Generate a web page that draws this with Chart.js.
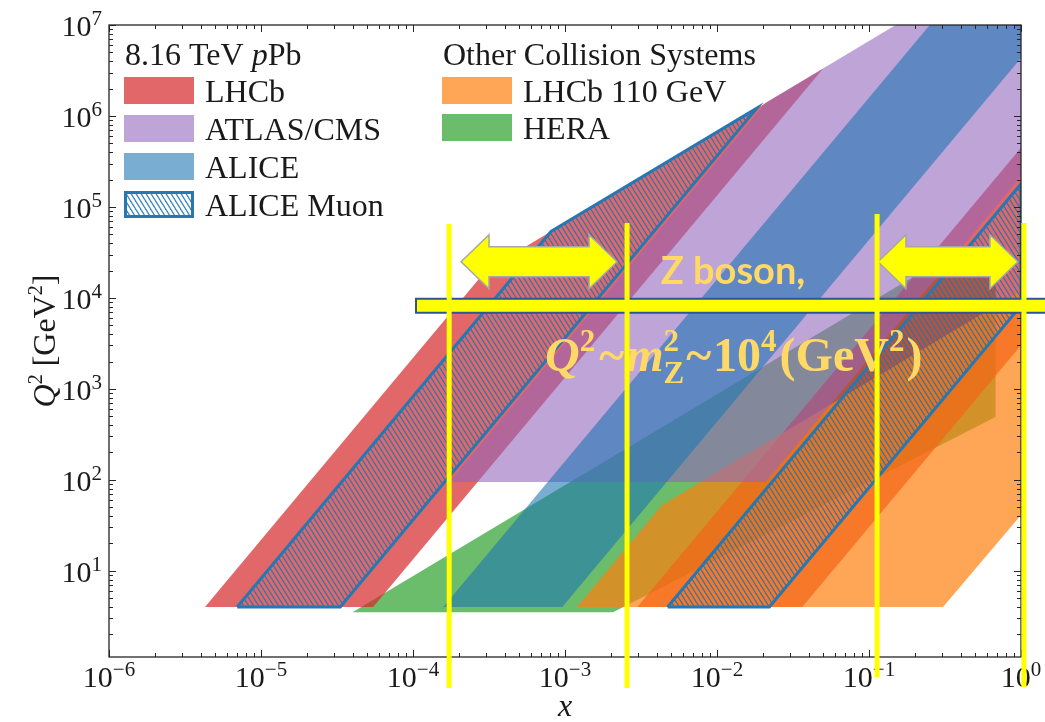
<!DOCTYPE html>
<html lang="en">
<head>
<meta charset="utf-8">
<title>Kinematic coverage, 8.16 TeV pPb</title>
<script src="https://cdn.jsdelivr.net/npm/chart.js@4.4.1/dist/chart.umd.min.js"></script>
<style>
  html, body { margin: 0; padding: 0; background: #fff; }
  #box { position: relative; width: 1045px; height: 722px; }
</style>
</head>
<body>
<div id="box"><canvas id="coverage" width="1045" height="722"></canvas></div>
<script>
// ---- 8.16 TeV pPb acceptances: polygon corners in (x, Q^2) ----
const lhcbFwdX   = [4.28e-6, 5.47e-5, 0.0498, 3.03e-4];
const lhcbFwdQ2  = [4, 4, 3.31e6, 2.02e4];
const lhcbBwdX   = [2.99e-3, 0.0364, 1, 1];
const lhcbBwdQ2  = [4, 4, 3020, 4.48e5];
const atlasCmsX  = [1.73e-4, 0.0210, 1, 1, 0.150, 0.0208];
const atlasCmsQ2 = [95, 95, 2.16e5, 1e7, 1e7, 1.39e6];
const aliceX     = [1.58e-4, 9.59e-4, 1, 1, 0.251];
const aliceQ2    = [4, 4, 4.34e6, 1e7, 1e7];
const muonFwdX   = [6.97e-6, 3.32e-5, 0.0183, 8.09e-4];
const muonFwdQ2  = [4, 4, 1.22e6, 5.38e4];
const muonBwdX   = [4.73e-3, 0.0221, 1, 1];
const muonBwdQ2  = [4, 4, 8200, 1.79e5];

// ---- other collision systems ----
const lhcb110X   = [1.20e-3, 0.307, 1, 1, 4.34e-3];
const lhcb110Q2  = [4, 4, 41, 1.21e4, 52.5];
const heraX      = [4.0e-5, 2.07e-3, 0.68, 0.68, 0.344];
const heraQ2     = [3.5, 3.5, 490, 3.0e4, 3.0e4];

// ---- axes ----
const xDecades = [-6, -5, -4, -3, -2, -1, 0];
const xTickExp = ['−6', '−5', '−4', '−3', '−2', '−1', '0'];
const yDecades = [0, 1, 2, 3, 4, 5, 6, 7];
const yTickExp = ['0', '1', '2', '3', '4', '5', '6', '7'];

// ---- legend text ----
const ppbLabels = ['LHCb', 'ATLAS/CMS', 'ALICE', 'ALICE Muon'];
const otherLabels = ['LHCb 110 GeV', 'HERA'];

// ---- Z boson marks: guide lines (x), arrows (x from/to), band level ----
const zGuideX = [1.73e-4, 2.56e-3, 0.113, 1.046];
const zArrowFrom = [2.07e-4, 0.1146];
const zArrowTo = [2.20e-3, 0.955];
const zArrowQ2 = 2.5e4;
const zBandQ2 = 8.2e3;

const SERIF = "'Liberation Serif', 'Times New Roman', serif";
const RED = 'rgba(214, 39, 40, 0.7)';
const PURPLE = 'rgba(148, 103, 189, 0.6)';
const BLUE = 'rgba(31, 119, 180, 0.6)';
const ORANGE = 'rgba(255, 127, 14, 0.7)';
const GREEN = 'rgba(44, 160, 44, 0.7)';
const EDGE = '#2677b2';
const YELLOW = '#ffff00';
const GOLD = '#ffd966';
const INK = '#1a1a1a';

function hatchPattern(bg) {
  const w = 5, h = 8;
  const c = document.createElement('canvas');
  c.width = w; c.height = h;
  const g = c.getContext('2d');
  if (bg) { g.fillStyle = bg; g.fillRect(0, 0, w, h); }
  g.strokeStyle = 'rgba(31, 119, 180, 0.9)';
  g.lineWidth = 1.2;
  for (const off of [-w, 0, w]) {
    g.beginPath();
    g.moveTo(off - w / h, -1);
    g.lineTo(off + w + w / h, h + 1);
    g.stroke();
  }
  return g.createPattern(c, 'repeat');
}
const HATCH = hatchPattern(null);
const HATCH_LEGEND = hatchPattern('#ffffff');

function region(label, xs, q2, fill, outline) {
  const pts = xs.map((x, i) => ({ x: x, y: q2[i] }));
  if (outline) pts.push(pts[0]);
  return {
    label: label,
    data: pts,
    showLine: true,
    fill: 'shape',
    backgroundColor: fill,
    borderColor: outline || 'rgba(0,0,0,0)',
    borderWidth: outline ? 3 : 0,
    borderJoinStyle: 'miter',
    pointRadius: 0,
    pointHoverRadius: 0,
    tension: 0
  };
}

// listed bottom layer first
const layers = [
  region('HERA', heraX, heraQ2, GREEN),
  region('LHCb', lhcbFwdX, lhcbFwdQ2, RED),
  region('LHCb', lhcbBwdX, lhcbBwdQ2, RED),
  region('LHCb 110 GeV', lhcb110X, lhcb110Q2, ORANGE),
  region('ATLAS/CMS', atlasCmsX, atlasCmsQ2, PURPLE),
  region('ALICE', aliceX, aliceQ2, BLUE),
  region('ALICE Muon', muonFwdX, muonFwdQ2, HATCH, EDGE),
  region('ALICE Muon', muonBwdX, muonBwdQ2, HATCH, EDGE)
];
layers.forEach((d, i) => { d.order = layers.length - i; });

function isDecade(v) {
  const l = Math.log10(v);
  return Math.abs(l - Math.round(l)) < 1e-6;
}

function logTicks(decades, lo, hi) {
  const out = [];
  decades.forEach(e => {
    for (let m = 1; m < 10; m++) {
      const v = m * Math.pow(10, e);
      if (v >= lo * 0.999 && v <= hi * 1.001) out.push({ value: v });
    }
  });
  return out;
}

function drawRuns(ctx, runs, x, y) {
  let cx = x;
  runs.forEach(r => {
    ctx.font = r.font;
    ctx.fillText(r.t, cx, y + (r.dy || 0));
    if (!r.stack) cx += ctx.measureText(r.t).width + (r.kern || 0);
  });
  return cx - x;
}

function runsWidth(ctx, runs) {
  let w = 0;
  runs.forEach(r => {
    ctx.font = r.font;
    if (!r.stack) w += ctx.measureText(r.t).width + (r.kern || 0);
  });
  return w;
}

function powerRuns(exp) {
  return [
    { t: '10', font: '30px ' + SERIF },
    { t: exp, font: '21px ' + SERIF, dy: -11 }
  ];
}

// box frame with inward ticks on all four sides, plus 10^n labels
const frameTicks = {
  id: 'frameTicks',
  afterDatasetsDraw(chart) {
    const { ctx, chartArea: a, scales: { x, y } } = chart;
    ctx.save();
    ctx.strokeStyle = '#262626';
    ctx.lineWidth = 1;
    ctx.beginPath();
    x.ticks.forEach(t => {
      const px = Math.round(x.getPixelForValue(t.value)) + 0.5;
      const len = isDecade(t.value) ? 7 : 4;
      ctx.moveTo(px, a.bottom); ctx.lineTo(px, a.bottom - len);
      ctx.moveTo(px, a.top); ctx.lineTo(px, a.top + len);
    });
    y.ticks.forEach(t => {
      const py = Math.round(y.getPixelForValue(t.value)) + 0.5;
      const len = isDecade(t.value) ? 7 : 4;
      ctx.moveTo(a.left, py); ctx.lineTo(a.left + len, py);
      ctx.moveTo(a.right, py); ctx.lineTo(a.right - len, py);
    });
    ctx.stroke();
    ctx.lineWidth = 1.3;
    ctx.strokeRect(a.left, a.top, a.right - a.left, a.bottom - a.top);

    ctx.fillStyle = INK;
    ctx.textAlign = 'left';
    ctx.textBaseline = 'alphabetic';
    x.ticks.filter(t => isDecade(t.value)).forEach(t => {
      const e = Math.round(Math.log10(t.value));
      const runs = powerRuns(xTickExp[xDecades.indexOf(e)]);
      const px = x.getPixelForValue(t.value);
      drawRuns(ctx, runs, px - runsWidth(ctx, runs) / 2, a.bottom + 30);
    });
    y.ticks.filter(t => isDecade(t.value)).forEach(t => {
      const e = Math.round(Math.log10(t.value));
      const runs = powerRuns(yTickExp[yDecades.indexOf(e)]);
      const py = y.getPixelForValue(t.value);
      drawRuns(ctx, runs, a.left - 7 - runsWidth(ctx, runs), py + 11);
    });
    ctx.restore();
  }
};

function legendBox(ctx, x, y, fill, outline) {
  const w = 70, h = 27;
  ctx.fillStyle = '#ffffff';
  ctx.fillRect(x, y, w, h);
  ctx.fillStyle = fill;
  ctx.fillRect(x, y, w, h);
  if (outline) {
    ctx.strokeStyle = outline;
    ctx.lineWidth = 3;
    ctx.strokeRect(x + 1.5, y + 1.5, w - 3, h - 3);
  }
}

function doubleArrow(ctx, x1, x2, cy) {
  const hl = 28, hh = 27, sh = 15;
  ctx.beginPath();
  ctx.moveTo(x1, cy);
  ctx.lineTo(x1 + hl, cy - hh);
  ctx.lineTo(x1 + hl, cy - sh);
  ctx.lineTo(x2 - hl, cy - sh);
  ctx.lineTo(x2 - hl, cy - hh);
  ctx.lineTo(x2, cy);
  ctx.lineTo(x2 - hl, cy + hh);
  ctx.lineTo(x2 - hl, cy + sh);
  ctx.lineTo(x1 + hl, cy + sh);
  ctx.lineTo(x1 + hl, cy + hh);
  ctx.closePath();
  ctx.fillStyle = YELLOW;
  ctx.fill();
  ctx.strokeStyle = '#a6a6a6';
  ctx.lineWidth = 1.5;
  ctx.stroke();
}

const overlay = {
  id: 'overlay',
  afterDraw(chart) {
    const { ctx, chartArea: a, scales: { x, y } } = chart;
    ctx.save();
    ctx.textBaseline = 'alphabetic';
    ctx.textAlign = 'left';

    // legend: two columns
    const F = '32px ' + SERIF, FI = 'italic 32px ' + SERIF;
    ctx.fillStyle = INK;
    drawRuns(ctx, [{ t: '8.16 TeV ', font: F }, { t: 'p', font: FI }, { t: 'Pb', font: F }], 125, 65);
    drawRuns(ctx, [{ t: 'Other Collision Systems', font: F }], 443, 65);
    const ppbFills = [[RED], [PURPLE], [BLUE], [HATCH_LEGEND, EDGE]];
    ppbLabels.forEach((lab, i) => {
      const top = 77 + i * 38;
      legendBox(ctx, 124, top, ppbFills[i][0], ppbFills[i][1]);
      ctx.fillStyle = INK;
      ctx.font = F;
      ctx.fillText(lab, 205, top + 25);
    });
    const otherFills = [ORANGE, GREEN];
    otherLabels.forEach((lab, i) => {
      const top = 77 + i * 37;
      legendBox(ctx, 442, top, otherFills[i]);
      ctx.fillStyle = INK;
      ctx.font = F;
      ctx.fillText(lab, 523, top + 25);
    });

    // axis titles
    ctx.fillStyle = INK;
    ctx.font = FI;
    ctx.textAlign = 'center';
    ctx.fillText('x', (a.left + a.right) / 2, 716);
    ctx.textAlign = 'left';
    const yTitle = [
      { t: 'Q', font: FI },
      { t: '2', font: '20px ' + SERIF, dy: -13 },
      { t: ' [GeV', font: F },
      { t: '2', font: '20px ' + SERIF, dy: -13 },
      { t: ']', font: F }
    ];
    ctx.save();
    ctx.translate(55, (a.top + a.bottom) / 2);
    ctx.rotate(-Math.PI / 2);
    drawRuns(ctx, yTitle, -runsWidth(ctx, yTitle) / 2, 0);
    ctx.restore();

    // Z boson band at Q^2 ~ 10^4
    const by = y.getPixelForValue(zBandQ2);
    ctx.fillStyle = YELLOW;
    ctx.fillRect(416, by - 7, 640, 14);
    ctx.strokeStyle = '#2f5597';
    ctx.lineWidth = 2;
    ctx.strokeRect(416, by - 7, 640, 14);

    // x ranges
    const ay = y.getPixelForValue(zArrowQ2);
    zArrowFrom.forEach((x0, i) => {
      doubleArrow(ctx, x.getPixelForValue(x0), x.getPixelForValue(zArrowTo[i]), ay);
    });

    // labels
    ctx.fillStyle = GOLD;
    ctx.font = "bold 38px Lato, 'Open Sans', sans-serif";
    ctx.textAlign = 'center';
    ctx.fillText('Z boson,', 733, 284);
    ctx.textAlign = 'left';
    const B = 'bold 48px ' + SERIF, BI = 'italic bold 48px ' + SERIF;
    const S = 'bold 31px ' + SERIF;
    const formula = [
      { t: 'Q', font: BI },
      { t: '2', font: S, dy: -20, kern: 4 },
      { t: '~', font: B, kern: 2 },
      { t: 'm', font: BI },
      { t: '2', font: S, dy: -20, stack: true },
      { t: 'Z', font: S, dy: 12, kern: 2 },
      { t: '~', font: B, kern: 2 },
      { t: '10', font: B },
      { t: '4', font: S, dy: -20, kern: 3 },
      { t: '(GeV', font: B },
      { t: '2', font: S, dy: -20, kern: 2 },
      { t: ')', font: B }
    ];
    drawRuns(ctx, formula, 545, 371);

    // vertical guides
    ctx.fillStyle = YELLOW;
    const spans = [[224, 688], [223, 688], [214, 677], [223, 687]];
    zGuideX.forEach((gx, i) => {
      const px = x.getPixelForValue(gx);
      ctx.fillRect(px - 2.5, spans[i][0], 5, spans[i][1] - spans[i][0]);
    });
    ctx.restore();
  }
};

new Chart(document.getElementById('coverage'), {
  type: 'scatter',
  data: { datasets: layers },
  options: {
    responsive: false,
    animation: false,
    devicePixelRatio: 1,
    events: [],
    layout: { padding: { top: 25, right: 24, left: 0, bottom: 0 } },
    plugins: { legend: { display: false }, tooltip: { enabled: false } },
    scales: {
      x: {
        type: 'logarithmic',
        position: 'bottom',
        min: 1e-6,
        max: 1,
        grid: { display: false, drawTicks: false },
        border: { display: false },
        ticks: { display: false },
        afterBuildTicks: s => { s.ticks = logTicks(xDecades, 1e-6, 1); },
        afterFit: s => { s.height = 65; }
      },
      y: {
        type: 'logarithmic',
        position: 'left',
        min: 1.13,
        max: 1e7,
        grid: { display: false, drawTicks: false },
        border: { display: false },
        ticks: { display: false },
        afterBuildTicks: s => { s.ticks = logTicks(yDecades, 1.13, 1e7); },
        afterFit: s => { s.width = 109; }
      }
    }
  },
  plugins: [frameTicks, overlay]
});
</script>
</body>
</html>
